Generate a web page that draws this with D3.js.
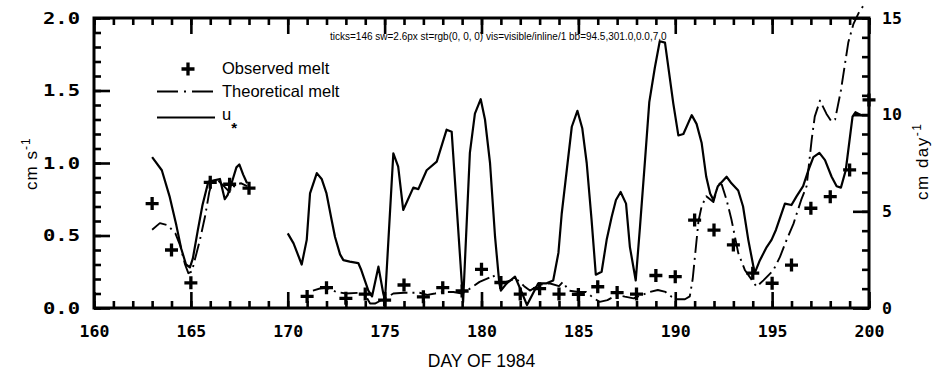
<!DOCTYPE html>
<html><head><meta charset="utf-8">
<script src="https://cdn.jsdelivr.net/npm/d3@7"></script>
<style>body{margin:0;background:#fff} svg{display:block}</style>
</head><body>
<svg id="c" width="934" height="378"></svg>
<script>
// ---------- data ----------
const xTicks = [160,165,170,175,180,185,190,195,200];
const yLeftTicks = [0.0,0.5,1.0,1.5,2.0];
const yRightTicks = [0,5,10,15];
const legendLabels = ["Observed melt","Theoretical melt","u"];

const observedDays = [163,164,165,166,167,168,171,172,173,174,175,176,177,178,179,180,181,182,183,184,185,186,187,188,189,190,191,192,193,194,195,196,197,198,199,200];
const observedMelt = [5.4,3.0,1.3,6.5,6.4,6.2,0.6,1.05,0.5,0.72,0.41,1.19,0.58,1.05,0.88,2.0,1.32,0.72,1.0,0.72,0.7,1.1,0.8,0.72,1.68,1.62,4.55,4.03,3.26,1.8,1.28,2.22,5.16,5.76,7.14,10.76];

const uStarDays = [163,163.5,163.9,164.25,164.5,164.75,164.95,165.1,165.35,165.6,165.9,166.2,166.5,166.75,166.9,167.1,167.35,167.5,167.7,167.9,
  null,
  170,170.3,170.72,170.98,171.15,171.5,171.75,172.0,172.26,172.44,172.7,172.87,173.2,173.64,173.8,174.16,174.35,174.68,174.93,175.02,175.45,175.7,175.96,176.48,176.74,177.17,177.69,178.2,178.46,179.05,179.4,179.66,179.96,180.18,180.44,180.7,180.92,181.0,181.3,181.73,182.07,182.35,182.93,183.36,183.7,183.97,184.14,184.4,184.66,184.95,185.2,185.43,185.68,185.9,186.2,186.46,186.72,186.94,187.18,187.46,187.66,187.96,188.18,188.44,188.66,188.95,189.2,189.47,189.9,190.16,190.42,190.85,191.1,191.36,191.6,191.8,191.97,192.2,192.65,192.9,193.25,193.5,193.77,194.1,194.37,194.72,194.97,195.2,195.66,196.0,196.26,196.6,196.87,197.13,197.44,197.73,198.07,198.33,198.55,198.8,199.15,199.3,199.6,200];
const uStarValues = [1.04,0.95,0.77,0.57,0.41,0.30,0.28,0.34,0.53,0.71,0.87,0.88,0.89,0.75,0.78,0.86,0.97,0.99,0.92,0.86,
  null,
  0.515,0.446,0.30,0.47,0.79,0.93,0.89,0.79,0.61,0.49,0.37,0.33,0.32,0.31,0.26,0.12,0.08,0.285,0.10,0.055,1.067,0.975,0.676,0.83,0.82,0.95,1.01,1.23,1.216,0.04,1.07,1.34,1.44,1.30,1.0,0.49,0.17,0.12,0.17,0.216,0.11,0.02,0.17,0.17,0.19,0.38,0.65,0.95,1.25,1.36,1.24,1.0,0.61,0.23,0.25,0.47,0.63,0.745,0.80,0.72,0.42,0.19,0.56,1.02,1.42,1.66,1.84,1.83,1.41,1.19,1.20,1.33,1.27,1.14,0.905,0.79,0.745,0.84,0.905,0.86,0.81,0.70,0.47,0.24,0.33,0.42,0.47,0.54,0.72,0.71,0.77,0.84,0.95,1.04,1.07,1.02,0.905,0.84,0.83,0.95,1.32,1.35,1.33,1.33];

const theoDays = [163,163.4,163.8,164.2,164.45,164.7,164.87,165.05,165.2,165.47,165.73,165.95,166.1,166.4,166.7,167.0,167.3,167.6,167.9,
  null,
  171.3,171.7,172.0,172.5,173.0,173.7,174.0,174.25,174.5,174.85,175.2,175.45,176.0,176.8,177.2,177.6,178.0,178.55,179.0,179.3,179.9,180.35,180.6,180.8,181.1,181.5,181.8,182.2,182.5,183.0,183.5,184.0,184.2,184.5,185.0,185.4,185.8,186.1,186.5,187.0,187.4,187.85,188.3,188.7,189.1,189.5,189.8,190.1,190.5,190.75,190.9,191.05,191.2,191.36,191.6,191.97,192.23,192.4,192.65,192.9,193.25,193.6,194.2,194.55,195.06,195.4,195.75,196.1,196.5,196.78,197.04,197.2,197.47,197.8,198.07,198.25,198.55,198.93,199.2,199.45,199.75];
const theoMelt = [4.05,4.39,4.28,3.86,3.23,2.25,1.8,1.88,2.48,3.53,4.73,6.0,6.53,6.6,6.3,6.0,6.38,6.45,6.3,
  null,
  0.9,1.02,1.05,0.83,0.75,0.79,0.68,0.23,0.23,0.41,0.6,0.75,0.79,0.79,0.68,0.75,0.83,0.83,0.75,0.93,1.35,1.54,1.71,1.35,1.28,1.43,1.5,1.13,0.9,1.2,1.28,1.13,1.35,0.9,0.83,0.83,0.5,0.32,0.41,0.68,0.59,0.5,0.68,0.83,0.93,0.83,0.59,0.45,0.45,0.6,1.5,3.0,4.5,5.25,5.78,5.48,6.45,6.38,5.59,4.58,2.85,1.95,1.1,1.43,1.95,2.63,3.53,4.35,5.59,6.3,8.7,9.9,10.73,10.05,9.64,9.75,11.25,13.73,14.7,15.23,15.7];

// ---------- chart ----------
const svg = d3.select("#c");
const L = 94, R = 869, T = 18, B = 308;
const x = d3.scaleLinear().domain([160,200]).range([L,R]);
const yL = d3.scaleLinear().domain([0,2]).range([B,T]);
const yR = d3.scaleLinear().domain([0,15]).range([B,T]);

const monoFont = "'DejaVu Sans Mono', 'Liberation Mono', monospace";
const sansFont = "'Liberation Sans', Arial, Helvetica, sans-serif";

function styleAxis(g){
  g.select(".domain").remove();
  g.selectAll(".tick line").attr("stroke","#000").attr("stroke-width",2.6);
  g.selectAll("text").attr("fill","#000").attr("font-family",monoFont).attr("font-weight","bold").attr("font-size",16.5);
}
const minorX = d3.range(160,201,1);
const minorYL = d3.range(0,2.001,0.1);
const minorYR = d3.range(0,15.001,1);

const axes = svg.append("g").attr("class","axes");
axes.append("g").attr("transform",`translate(0,${B})`)
  .call(d3.axisBottom(x).tickValues(minorX).tickSize(-7).tickFormat("")).call(styleAxis);
axes.append("g").attr("transform",`translate(0,${B})`)
  .call(d3.axisBottom(x).tickValues(xTicks).tickSize(-16).tickPadding(17).tickFormat(d3.format("d"))).call(styleAxis);
axes.append("g").attr("transform",`translate(0,${T})`)
  .call(d3.axisTop(x).tickValues(minorX).tickSize(-7).tickFormat("")).call(styleAxis);
axes.append("g").attr("transform",`translate(0,${T})`)
  .call(d3.axisTop(x).tickValues(xTicks).tickSize(-16).tickFormat("")).call(styleAxis);
axes.append("g").attr("transform",`translate(${L},0)`)
  .call(d3.axisLeft(yL).tickValues(minorYL).tickSize(-7).tickFormat("")).call(styleAxis);
const gl = axes.append("g").attr("transform",`translate(${L},0)`)
  .call(d3.axisLeft(yL).tickValues(yLeftTicks).tickSize(-16).tickPadding(14).tickFormat(d3.format(".1f"))).call(styleAxis);
gl.selectAll("text").attr("textLength",37).attr("lengthAdjust","spacingAndGlyphs");
axes.append("g").attr("transform",`translate(${R},0)`)
  .call(d3.axisRight(yR).tickValues(minorYR).tickSize(-7).tickFormat("")).call(styleAxis);
axes.append("g").attr("transform",`translate(${R},0)`)
  .call(d3.axisRight(yR).tickValues(yRightTicks).tickSize(-16).tickPadding(13).tickFormat(d3.format("d"))).call(styleAxis);

axes.append("rect").attr("x",L).attr("y",T).attr("width",R-L).attr("height",B-T)
  .attr("fill","none").attr("stroke","#000").attr("stroke-width",3);

// series
const uLine = d3.line().defined(d=>d[1]!=null).x(d=>x(d[0])).y(d=>yL(d[1]));
const tLine = d3.line().defined(d=>d[1]!=null).x(d=>x(d[0])).y(d=>yR(d[1]));

svg.append("path").datum(d3.zip(theoDays,theoMelt))
  .attr("d",tLine).attr("fill","none").attr("stroke","#000").attr("stroke-width",1.9)
  .attr("stroke-dasharray","17,5,2,5").attr("stroke-linejoin","round");
svg.append("path").datum(d3.zip(uStarDays,uStarValues))
  .attr("d",uLine).attr("fill","none").attr("stroke","#000").attr("stroke-width",2.2)
  .attr("stroke-linejoin","round");

const plus = "M-6.5,0H6.5M0,-6.5V6.5";
svg.append("g").selectAll("path").data(d3.zip(observedDays,observedMelt)).join("path")
  .attr("transform",d=>`translate(${x(d[0])},${yR(d[1])})`)
  .attr("d",plus).attr("stroke","#000").attr("stroke-width",3.3).attr("fill","none");

// legend
const lg = svg.append("g").attr("font-family",sansFont).attr("font-size",16.5).attr("fill","#000");
lg.append("path").attr("transform","translate(188,69)").attr("d",plus).attr("fill","none")
  .attr("stroke","#000").attr("stroke-width",3.3);
lg.append("text").attr("x",222).attr("y",74).text(legendLabels[0]);
lg.append("line").attr("x1",157).attr("x2",215).attr("y1",91.5).attr("y2",91.5)
  .attr("stroke","#000").attr("stroke-width",2).attr("stroke-dasharray","21,6,2,6");
lg.append("text").attr("x",222).attr("y",97).text(legendLabels[1]);
lg.append("line").attr("x1",157).attr("x2",215).attr("y1",117.5).attr("y2",117.5)
  .attr("stroke","#000").attr("stroke-width",2);
const ut = lg.append("text").attr("x",222).attr("y",120);
ut.append("tspan").text(legendLabels[2]);
ut.append("tspan").attr("dy",13).attr("font-size",15).attr("font-weight","bold").text("*");

// axis titles
const tl = svg.append("text").attr("font-family",sansFont).attr("font-size",17).attr("letter-spacing",1)
  .attr("transform","translate(37,190) rotate(-90)");
tl.append("tspan").text("cm s");
tl.append("tspan").attr("dy",-7).attr("font-size",12).text("-1");

const tr = svg.append("text").attr("font-family",sansFont).attr("font-size",17).attr("letter-spacing",1.5)
  .attr("transform","translate(928,200) rotate(-90)");
tr.append("tspan").text("cm day");
tr.append("tspan").attr("dy",-7).attr("font-size",12).text("-1");

svg.append("text").attr("font-family",sansFont).attr("font-size",17.5)
  .attr("x",(L+R)/2).attr("y",367).attr("text-anchor","middle").text("DAY OF 1984");

// temporary diagnostic
const tk = svg.selectAll(".tick line");
const n0 = tk.node();
const cs = n0 ? getComputedStyle(n0) : null;
const bb = n0 ? n0.getBoundingClientRect() : null;
svg.append("text").attr("x",330).attr("y",40).attr("font-size",10).attr("font-family",sansFont)
  .text("ticks=" + tk.size() + " sw=" + (cs?cs.strokeWidth:"") + " st=" + (cs?cs.stroke:"") + " vis=" + (cs?cs.visibility+"/"+cs.display+"/"+cs.opacity:"") + " bb=" + (bb?[bb.x,bb.y,bb.width,bb.height].map(v=>v.toFixed(1)).join(","):""));
</script>
</body></html>
